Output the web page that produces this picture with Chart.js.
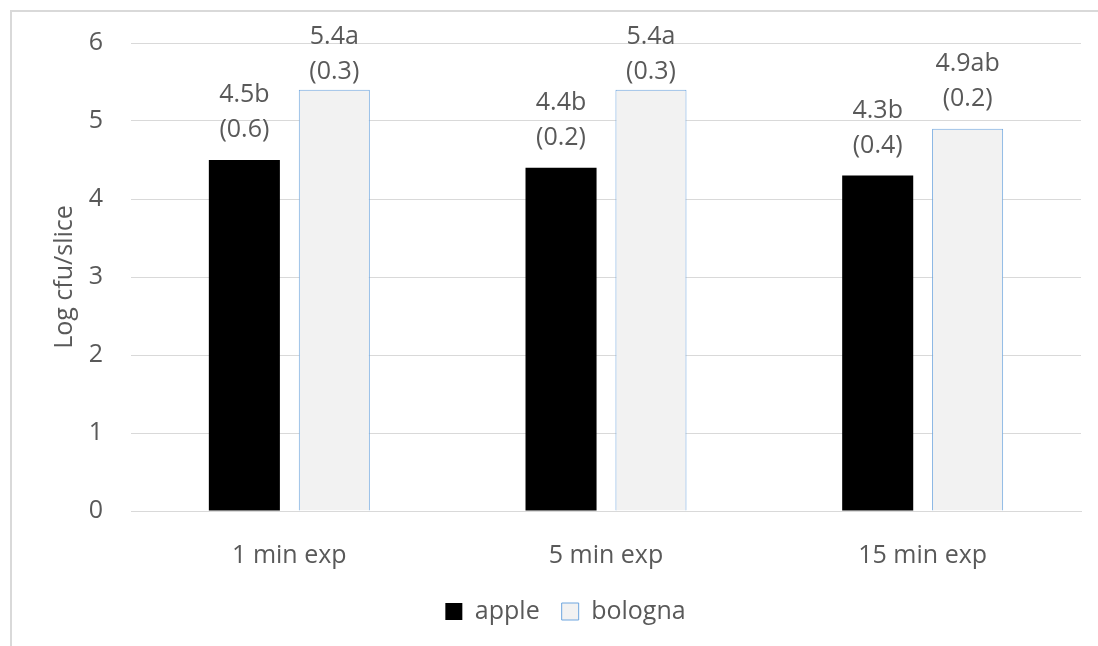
<!DOCTYPE html>
<html>
<head>
<meta charset="utf-8">
<script src="https://cdn.jsdelivr.net/npm/chart.js@4.4.1/dist/chart.umd.min.js"></script>
<style>
  html, body { margin: 0; padding: 0; background: #fff; overflow: hidden; }
  #frame { position: absolute; left: 10px; top: 10px; width: 1200px; height: 700px;
           border-left: 2px solid #d9d9d9; border-top: 2px solid #d9d9d9; }
  #wrap { position: absolute; left: 0; top: 0; width: 1098px; height: 646px; }
</style>
</head>
<body>
<div id="frame"></div>
<div id="wrap"><canvas id="chart" width="1098" height="646"></canvas></div>
<script>
// ── data ─────────────────────────────────────────────────────────────
const categories     = ['1 min exp', '5 min exp', '15 min exp'];
const appleVals      = [4.5, 4.4, 4.3];
const bolognaVals    = [5.4, 5.4, 4.9];
const appleLetters   = ['b', 'b', 'b'];
const bolognaLetters = ['a', 'a', 'ab'];
const appleSd        = [0.6, 0.2, 0.4];
const bolognaSd      = [0.3, 0.3, 0.2];
const yTicks         = [0, 1, 2, 3, 4, 5, 6];

const FONT = '"Open Sans", "Noto Sans", sans-serif';
const TXT  = '#595959';
const GRID = '#d9d9d9';

const letters = [appleLetters, bolognaLetters];
const sds     = [appleSd, bolognaSd];

// two-line labels above bars: "4.5b" / "(0.6)"
const barLabels = {
  id: 'barLabels',
  afterDatasetsDraw(chart) {
    const { ctx } = chart;
    ctx.save();
    ctx.font = `25px ${FONT}`;
    ctx.fillStyle = TXT;
    ctx.textAlign = 'center';
    ctx.textBaseline = 'middle';
    chart.data.datasets.forEach((ds, di) => {
      chart.getDatasetMeta(di).data.forEach((bar, i) => {
        const top = Math.max(bar.y - 65, 37);
        ctx.fillText(ds.data[i].toFixed(1) + letters[di][i], bar.x, top);
        ctx.fillText('(' + sds[di][i].toFixed(1) + ')', bar.x, top + 35);
      });
    });
    ctx.restore();
  }
};

new Chart(document.getElementById('chart'), {
  type: 'bar',
  data: {
    labels: categories,
    datasets: [
      { label: 'apple', data: appleVals, backgroundColor: '#000000', borderColor: '#000000', borderWidth: 0 },
      { label: 'bologna', data: bolognaVals, backgroundColor: '#f2f2f2', borderColor: '#6fa6df', borderWidth: 1 }
    ]
  },
  options: {
    responsive: false,
    animation: false,
    categoryPercentage: 0.568,
    barPercentage: 0.79,
    layout: { padding: { left: 50, right: 17, top: 43, bottom: 12 } },
    plugins: {
      legend: {
        position: 'bottom',
        labels: { color: TXT, font: { family: FONT, size: 25 }, boxWidth: 17, boxHeight: 17, padding: 22 }
      },
      tooltip: { enabled: false }
    },
    scales: {
      x: {
        grid: { display: false },
        border: { color: GRID },
        ticks: { color: TXT, font: { family: FONT, size: 25 }, padding: 22 },
        afterFit: s => { s.height = 66; }
      },
      y: {
        min: 0, max: 6,
        afterBuildTicks: s => { s.ticks = yTicks.map(v => ({ value: v })); },
        grid: { color: GRID, drawTicks: false },
        border: { display: false },
        ticks: { color: TXT, font: { family: FONT, size: 25 }, padding: 28 },
        title: { display: true, text: 'Log cfu/slice', color: TXT, font: { family: FONT, size: 25 }, padding: 0 },
        afterFit: s => { s.width = 81; }
      }
    }
  },
  plugins: [barLabels]
});
</script>
</body>
</html>
